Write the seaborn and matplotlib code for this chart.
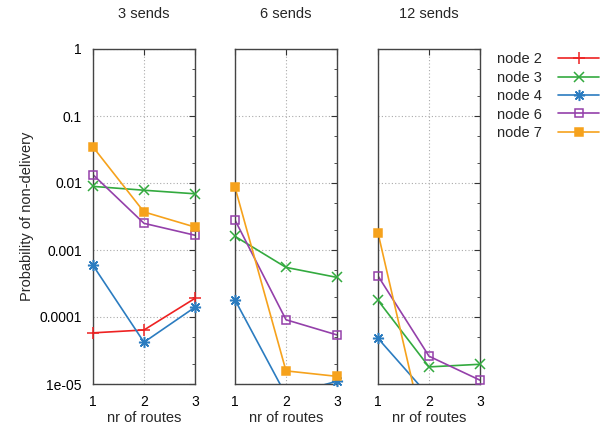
import numpy as np
import pandas as pd
import matplotlib
matplotlib.use("Agg")
import matplotlib.pyplot as plt
from matplotlib.ticker import LogLocator, FixedLocator, NullFormatter, FuncFormatter
from matplotlib.lines import Line2D
import seaborn as sns

sns.set_style("white")
plt.rcParams['font.family'] = ['Liberation Sans', 'DejaVu Sans']

panels = ["3 sends", "6 sends", "12 sends"]
routes = [1, 2, 3]
nodes = ["node 2", "node 3", "node 4", "node 6", "node 7"]

# values per panel, per node, at routes 1,2,3 (nan = not shown)
node2 = {"3 sends": [5.8e-5, 6.4e-5, 1.9e-4],
         "6 sends": [np.nan, np.nan, np.nan],
         "12 sends": [np.nan, np.nan, np.nan]}
node3 = {"3 sends": [0.0089, 0.0078, 0.0069],
         "6 sends": [0.0016, 5.5e-4, 3.9e-4],
         "12 sends": [1.77e-4, 1.8e-5, 1.97e-5]}
node4 = {"3 sends": [5.9e-4, 4.2e-5, 1.4e-4],
         "6 sends": [1.8e-4, 6.8e-6, 1.1e-5],
         "12 sends": [4.8e-5, 6.6e-6, 5.0e-6]}
node6 = {"3 sends": [0.0133, 0.0025, 0.00166],
         "6 sends": [0.0028, 9.1e-5, 5.4e-5],
         "12 sends": [4.1e-4, 2.6e-5, 1.14e-5]}
node7 = {"3 sends": [0.0345, 0.0037, 0.0022],
         "6 sends": [0.0086, 1.57e-5, 1.3e-5],
         "12 sends": [0.0018, 9e-7, 5e-7]}

series = {"node 2": node2, "node 3": node3, "node 4": node4,
          "node 6": node6, "node 7": node7}

rows = []
for p in panels:
    for n in nodes:
        for r, v in zip(routes, series[n][p]):
            rows.append({"panel": p, "node": n, "routes": r, "prob": v})
df = pd.DataFrame(rows).dropna()

colors = {"node 2": "#ee2222", "node 3": "#33aa3f", "node 4": "#2b7cc0",
          "node 6": "#9440aa", "node 7": "#f6a21c"}
markers = {"node 2": "+", "node 3": "x", "node 4": (8, 2, 0),
           "node 6": "s", "node 7": "s"}
msize = {"node 2": 8, "node 3": 7, "node 4": 8, "node 6": 6, "node 7": 6}

fig = plt.figure(figsize=(6.05, 4.26), dpi=100)
lefts = [93, 235, 378]
bottom = 1 - 384 / 426
height = (384 - 49) / 426
width = 102 / 605
YMIN, YMAX = 1e-5, 1

labels = {1: "1", 0.1: "0.1", 0.01: "0.01", 0.001: "0.001",
          1e-4: "0.0001", 1e-5: "1e-05"}

for i, p in enumerate(panels):
    ax = fig.add_axes([lefts[i] / 605, bottom, width, height])
    sub = df[df.panel == p]
    for n in nodes:
        d = sub[sub.node == n]
        if len(d) == 0:
            continue
        mfc = "none" if n == "node 6" else colors[n]
        # connecting line, clipped to the axes
        sns.lineplot(data=d, x="routes", y="prob", ax=ax, color=colors[n],
                     linewidth=1.2, legend=False)
        # markers, not clipped (only points inside the range)
        dm = d[(d.prob >= YMIN) & (d.prob <= YMAX)]
        ln = sns.lineplot(data=dm, x="routes", y="prob", ax=ax, color=colors[n],
                          linestyle="none", marker=markers[n],
                          markersize=msize[n], markerfacecolor=mfc,
                          markeredgecolor=colors[n], markeredgewidth=1.1,
                          legend=False)
        ln.lines[-1].set_clip_on(False)
        ln.lines[-1].set_zorder(5)
    ax.set_yscale("log")
    ax.set_xlim(1, 3)
    ax.set_ylim(YMIN, YMAX)
    ax.xaxis.set_major_locator(FixedLocator(routes))
    ax.yaxis.set_major_locator(LogLocator(base=10, numticks=10))
    ax.yaxis.set_minor_locator(LogLocator(base=10, subs=(2, 5), numticks=10))
    ax.yaxis.set_minor_formatter(NullFormatter())
    ax.yaxis.set_major_formatter(FuncFormatter(
        lambda v, pos: labels.get(round(v, 8), "")))
    ax.tick_params(which="both", direction="in", top=True, right=True,
                   labelsize=10, colors="#333333", labelcolor="black")
    ax.tick_params(which="major", length=4)
    ax.tick_params(axis="y", which="major", pad=8)
    ax.tick_params(axis="x", which="major", pad=8)
    ax.tick_params(which="minor", length=2.5)
    ax.grid(True, which="major", linestyle=(0, (1, 2)), color="#aaaaaa",
            linewidth=0.8)
    for s in ax.spines.values():
        s.set_color("#444444")
        s.set_linewidth(1.0)
    ax.set_title(p, fontsize=10.5, pad=22)
    ax.set_xlabel("nr of routes", fontsize=10.5, labelpad=1.5)
    if i == 0:
        ax.set_ylabel("Probability of non-delivery", fontsize=10.5, labelpad=4)
    else:
        ax.set_ylabel("")
        ax.tick_params(axis="y", which="both", labelleft=False)

handles = []
for n in nodes:
    mfc = "none" if n == "node 6" else colors[n]
    handles.append(Line2D([], [], color=colors[n], marker=markers[n],
                          markersize=msize[n], markerfacecolor=mfc,
                          markeredgewidth=1.1,
                          markeredgecolor=colors[n], linewidth=1.2, label=n))
fig.legend(handles=handles, loc="upper left", bbox_to_anchor=(0.822, 0.877),
           frameon=False, markerfirst=False, fontsize=10.5, handlelength=2.8,
           handletextpad=1.1, labelspacing=0.3, borderpad=0, borderaxespad=0)

fig.savefig("out.png", dpi=100)
